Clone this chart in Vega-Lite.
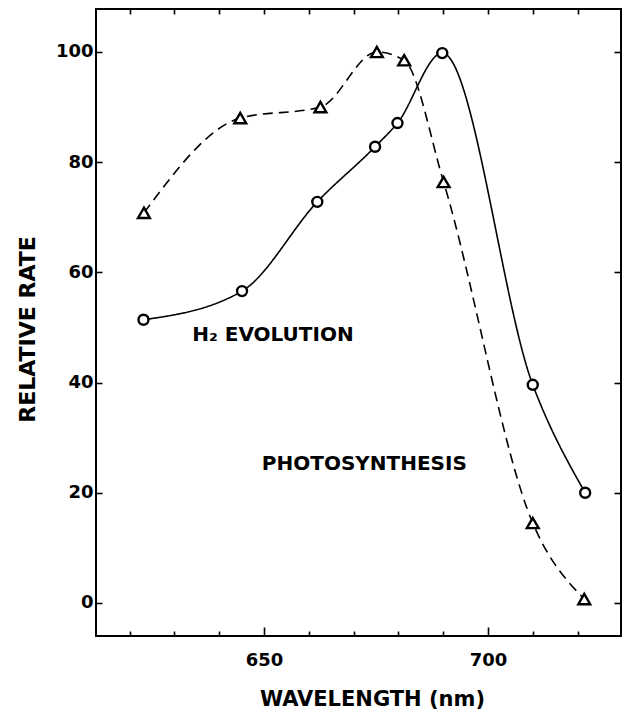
{
  "$schema": "https://vega.github.io/schema/vega-lite/v6.json",
  "width": 525,
  "height": 627,
  "autosize": {"type": "none"},
  "padding": {"left": 96, "top": 9, "right": 9, "bottom": 75},
  "background": "white",
  "config": {"view": {"stroke": "black", "strokeWidth": 2}, "font": "DejaVu Sans"},
  "datasets": {
    "rates": [
      {"series": "H2 evolution", "wavelength": 623.1, "rate": 51.4},
      {"series": "H2 evolution", "wavelength": 645.1, "rate": 56.6},
      {"series": "H2 evolution", "wavelength": 661.9, "rate": 72.8},
      {"series": "H2 evolution", "wavelength": 674.8, "rate": 82.8},
      {"series": "H2 evolution", "wavelength": 679.8, "rate": 87.1},
      {"series": "H2 evolution", "wavelength": 689.8, "rate": 99.8},
      {"series": "H2 evolution", "wavelength": 710.0, "rate": 39.6},
      {"series": "H2 evolution", "wavelength": 721.7, "rate": 20.0},
      {"series": "Photosynthesis", "wavelength": 623.2, "rate": 70.8},
      {"series": "Photosynthesis", "wavelength": 644.7, "rate": 88.0},
      {"series": "Photosynthesis", "wavelength": 662.6, "rate": 90.0},
      {"series": "Photosynthesis", "wavelength": 675.2, "rate": 100.0},
      {"series": "Photosynthesis", "wavelength": 681.3, "rate": 98.5},
      {"series": "Photosynthesis", "wavelength": 690.1, "rate": 76.4},
      {"series": "Photosynthesis", "wavelength": 710.0, "rate": 14.5},
      {"series": "Photosynthesis", "wavelength": 721.5, "rate": 0.7}
    ],
    "labels": [
      {"wavelength": 652.0, "rate": 48.7, "text": "H₂ EVOLUTION"},
      {"wavelength": 672.4, "rate": 25.3, "text": "PHOTOSYNTHESIS"}
    ]
  },
  "layer": [
    {
      "data": {"name": "rates"},
      "mark": {"type": "line", "interpolate": "monotone", "color": "black", "strokeWidth": 1.6},
      "encoding": {
        "x": {
          "field": "wavelength", "type": "quantitative",
          "scale": {"domain": [612.5, 729.7], "nice": false, "zero": false},
          "axis": {
            "orient": "bottom",
            "values": [620, 630, 640, 650, 660, 670, 680, 690, 700, 710, 720],
            "labelExpr": "datum.value % 50 === 0 ? datum.label : ''",
            "format": "d",
            "tickSize": {"condition": {"test": "datum.value % 50 === 0", "value": -9}, "value": -5},
            "tickWidth": 1.6, "tickColor": "black",
            "domain": false, "grid": false,
            "labelFont": "DejaVu Sans", "labelFontWeight": "bold", "labelFontSize": 18, "labelColor": "black",
            "labelPadding": 24,
            "title": "WAVELENGTH (nm)",
            "titleFont": "DejaVu Sans", "titleFontWeight": "bold", "titleFontSize": 21, "titleColor": "black",
            "titleX": 276, "titleY": 63, "titleAlign": "center", "titleBaseline": "middle"
          }
        },
        "y": {
          "field": "rate", "type": "quantitative",
          "scale": {"domain": [-6, 107.8], "nice": false, "zero": false},
          "axis": {
            "orient": "left",
            "values": [0, 20, 40, 60, 80, 100],
            "tickSize": -6, "tickWidth": 1.6, "tickColor": "black",
            "domain": false, "grid": false,
            "labelFont": "DejaVu Sans", "labelFontWeight": "bold", "labelFontSize": 18, "labelColor": "black",
            "labelPadding": 9,
            "title": "RELATIVE RATE",
            "titleFont": "DejaVu Sans", "titleFontWeight": "bold", "titleFontSize": 22, "titleColor": "black",
            "titleAngle": -90, "titleX": -69, "titleY": 320, "titleAlign": "center", "titleBaseline": "middle"
          }
        },
        "strokeDash": {
          "field": "series", "type": "nominal",
          "scale": {"domain": ["H2 evolution", "Photosynthesis"], "range": [[1, 0], [10, 6]]},
          "legend": null
        }
      }
    },
    {
      "data": {"name": "rates"},
      "mark": {"type": "point", "filled": true, "fill": "white", "stroke": "black", "strokeWidth": 2.4, "opacity": 1},
      "encoding": {
        "x": {
          "field": "wavelength", "type": "quantitative",
          "axis": {
            "orient": "top",
            "values": [620, 630, 640, 650, 660, 670, 680, 690, 700, 710, 720],
            "labels": false, "tickSize": -5, "tickWidth": 1.6, "tickColor": "black",
            "domain": false, "grid": false, "title": null
          }
        },
        "y": {
          "field": "rate", "type": "quantitative",
          "axis": {
            "orient": "right",
            "values": [0, 20, 40, 60, 80, 100],
            "labels": false, "tickSize": -7, "tickWidth": 1.6, "tickColor": "black",
            "domain": false, "grid": false, "title": null
          }
        },
        "shape": {
          "field": "series", "type": "nominal",
          "scale": {"domain": ["H2 evolution", "Photosynthesis"], "range": ["circle", "triangle-up"]},
          "legend": null
        },
        "size": {
          "field": "series", "type": "nominal",
          "scale": {"domain": ["H2 evolution", "Photosynthesis"], "range": [100, 140]},
          "legend": null
        }
      }
    },
    {
      "data": {"name": "labels"},
      "mark": {"type": "text", "font": "DejaVu Sans", "fontWeight": "bold", "fontSize": 20, "color": "black", "align": "center", "baseline": "middle"},
      "encoding": {
        "x": {"field": "wavelength", "type": "quantitative", "axis": null},
        "y": {"field": "rate", "type": "quantitative", "axis": null},
        "text": {"field": "text", "type": "nominal"}
      }
    }
  ],
  "resolve": {"axis": {"x": "independent", "y": "independent"}}
}
